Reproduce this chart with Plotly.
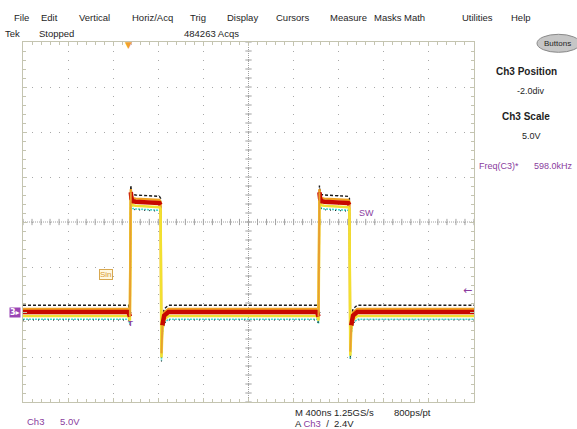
import plotly.graph_objects as go

# ---------------- data ----------------
# time in ns (10 div x 400 ns), voltage in V (5 V/div, ground 2 div below centre)
t_ns = [0, 935, 948, 956, 962, 975, 1000, 1210, 1220, 1228, 1236, 1252, 1290,
        2608, 2621, 2629, 2635, 2648, 2673, 2885, 2895, 2903, 2911, 2927, 2965, 4000]
v_sw = [0.0, 0.0, -0.5, 13.3, 12.6, 12.3, 12.25, 12.1, 11.9, -4.6, -1.5, -0.4, 0.0,
        0.0, -0.5, 13.3, 12.6, 12.3, 12.25, 12.1, 11.9, -4.4, -1.5, -0.4, 0.0, 0.0]

menu_items = ["File", "Edit", "Vertical", "Horiz/Acq", "Trig", "Display", "Cursors",
              "Measure", "Masks", "Math", "Utilities", "Help"]
menu_x = [21, 49, 94, 152, 198, 242, 293, 348, 388, 414, 478, 521]

X_RANGE = [0, 4000]
Y_RANGE = [-10, 30]
TRIG_LEVEL = 2.4

# ---------------- geometry helpers ----------------
W, H = 577, 429
PL, PR, PT, PB = 23, 474, 41.7, 401.7


def px(x, y):
    return (x - PL) / (PR - PL), (PB - y) / (PB - PT)


fig = go.Figure()

# persistence layers (style): offset in V, colour, width, dash
layers = [
    dict(off=0.75, color="#1a1a1a", width=1.4, dash="3px,2px"),
    dict(off=-0.8, color="#40d8d0", width=1.6, dash="2px,1px"),
    dict(off=-0.9, color="#202020", width=1.0, dash="1px,4px"),
    dict(off=0.35, color="#f0a020", width=2.4, dash="solid"),
    dict(off=-0.45, color="#f2e030", width=2.6, dash="solid"),
]
for L in layers:
    fig.add_trace(go.Scatter(
        x=t_ns, y=[v + L["off"] for v in v_sw], mode="lines",
        line=dict(color=L["color"], width=L["width"], dash=L["dash"]),
        hoverinfo="skip", showlegend=False))


def masked(keep):
    xs, ys = [], []
    for i in range(1, len(t_ns)):
        if keep(v_sw[i] - v_sw[i - 1]):
            if xs and xs[-1] != t_ns[i - 1]:
                xs.append(None)
                ys.append(None)
            if not xs or xs[-1] is None:
                xs.append(t_ns[i - 1])
                ys.append(v_sw[i - 1])
            xs.append(t_ns[i])
            ys.append(v_sw[i])
    return xs, ys


# thick red core only on the flat parts
rx, ry = masked(lambda d: abs(d) <= 2)
fig.add_trace(go.Scatter(x=rx, y=ry, mode="lines",
                         line=dict(color="#c80800", width=4.5),
                         hoverinfo="skip", showlegend=False))
# rising edges drawn in orange
ex, ey = masked(lambda d: d > 2)
fig.add_trace(go.Scatter(x=ex, y=ey, mode="lines",
                         line=dict(color="#e8a030", width=2),
                         hoverinfo="skip", showlegend=False))

# ---------------- graticule ----------------
grid_col = "#a8a8a8"
frame_col = "#c4c4b0"
common = dict(showgrid=True, gridcolor=grid_col, gridwidth=1, griddash="1px,8px",
              showline=True, linecolor=frame_col, linewidth=1, mirror="allticks",
              ticks="inside", ticklen=4, tickcolor=frame_col, showticklabels=False,
              zeroline=False, fixedrange=True)
fig.update_xaxes(range=X_RANGE, dtick=400, tick0=0,
                 minor=dict(dtick=80, ticks="inside", ticklen=3, tickcolor=frame_col,
                            showgrid=False), **common)
fig.update_yaxes(range=Y_RANGE, dtick=5, tick0=-10,
                 minor=dict(dtick=1, ticks="inside", ticklen=3, tickcolor=frame_col,
                            showgrid=False), **common)

shapes = []
xc = (X_RANGE[0] + X_RANGE[1]) / 2
yc = (Y_RANGE[0] + Y_RANGE[1]) / 2
shapes.append(dict(type="line", x0=xc, x1=xc, y0=Y_RANGE[0], y1=Y_RANGE[1],
                   line=dict(color="#a0a0a0", width=1, dash="1px,1px"), layer="below"))
shapes.append(dict(type="line", x0=X_RANGE[0], x1=X_RANGE[1], y0=yc, y1=yc,
                   line=dict(color="#a0a0a0", width=1, dash="1px,1px"), layer="below"))
for i in range(51):
    xt = X_RANGE[0] + i * 80
    shapes.append(dict(type="line", x0=xt, x1=xt, y0=yc - 0.35, y1=yc + 0.35,
                       line=dict(color="#a0a0a0", width=1), layer="below"))
for j in range(41):
    yt = Y_RANGE[0] + j * 1
    shapes.append(dict(type="line", x0=xc - 28, x1=xc + 28, y0=yt, y1=yt,
                       line=dict(color="#a0a0a0", width=1), layer="below"))

# Buttons pill
bx0, by0 = px(537, 34)
bx1, by1 = px(580, 52)
shapes.append(dict(type="circle", xref="paper", yref="paper", x0=bx0, x1=bx1,
                   y0=by1, y1=by0, fillcolor="#c6c6c6",
                   line=dict(color="#8a8a8a", width=1)))

# ---------------- text ----------------
UI = "Liberation Sans, Arial, sans-serif"
SCOPE = "Liberation Sans Narrow, Liberation Sans, Arial, sans-serif"
PURPLE = "#8a3c9e"
anns = []


def ann(text, x, y, size=9.5, color="#1e1e1e", family=UI, xanchor="center", **kw):
    xp, yp = px(x, y)
    d = dict(text=text, x=xp, y=yp, xref="paper", yref="paper", showarrow=False,
             xanchor=xanchor, yanchor="middle", font=dict(size=size, color=color,
                                                        family=family))
    d.update(kw)
    anns.append(d)


for name, xm in zip(menu_items, menu_x):
    ann(name, xm, 17, size=9.5)

ann("Tek", 3, 33, xanchor="left", size=9.5, family=SCOPE)
ann("Stopped", 37, 33, xanchor="left", size=9.5, family=SCOPE)
ann("484263 Acqs", 182, 33, xanchor="left", size=9.5, family=SCOPE)
ann("Buttons", 557, 43, size=8)

ann("<b>Ch3 Position</b>", 526, 71, size=10)
ann("-2.0div", 531, 91, size=9, family=SCOPE)
ann("<b>Ch3 Scale</b>", 526, 116, size=10)
ann("5.0V", 531, 136, size=9, family=SCOPE)
ann("Freq(C3)*", 477, 166, xanchor="left", size=9, color=PURPLE)
ann("598.0kHz", 532, 166, xanchor="left", size=9, color=PURPLE)

ann("Ch3", 25, 421, xanchor="left", size=9.5, color=PURPLE, family=SCOPE)
ann("5.0V", 58, 421, xanchor="left", size=9.5, color=PURPLE, family=SCOPE)
ann("M 400ns 1.25GS/s", 293, 412, xanchor="left", size=9.5, family=SCOPE)
ann("800ps/pt", 392, 412, xanchor="left", size=9.5, family=SCOPE)
ann("A <span style='color:%s'>Ch3</span>  /  2.4V" % PURPLE, 293, 423,
    xanchor="left", size=9.5, family=SCOPE)

# in-graticule markers
ann("SW", 366, 213, size=9, color=PURPLE, family=SCOPE)
ann("Sin", 106, 274, size=8, color="#d89a30", family=SCOPE,
    bordercolor="#d8a850", borderwidth=1, borderpad=0, bgcolor="#fff8e0")
ann("<b>3</b>\u25b8", 15, 312, size=8, color="#ffffff", family="DejaVu Sans",
    bgcolor="#9a44b4", borderpad=0)
ann("<b>T</b>", 130, 323, size=8, color=PURPLE, family=UI)
ann("\u25bc", 128, 45, size=9, color="#f0a030", family="DejaVu Sans")

# trigger level arrow on right edge (data coords)
anns.append(dict(text="\u2190", x=X_RANGE[1], y=TRIG_LEVEL, xref="x", yref="y",
                 showarrow=False, xanchor="right", yanchor="middle",
                 font=dict(size=11, color=PURPLE, family="DejaVu Sans")))

fig.update_layout(
    width=W, height=H,
    margin=dict(l=PL, r=W - PR, t=PT, b=H - PB, pad=0),
    paper_bgcolor="#ffffff", plot_bgcolor="#ffffff",
    showlegend=False, shapes=shapes, annotations=anns,
)

fig.write_html("out.html", config={"displayModeBar": False},
               post_script="document.body.style.margin='0';"
                           "document.body.style.overflow='hidden';")
